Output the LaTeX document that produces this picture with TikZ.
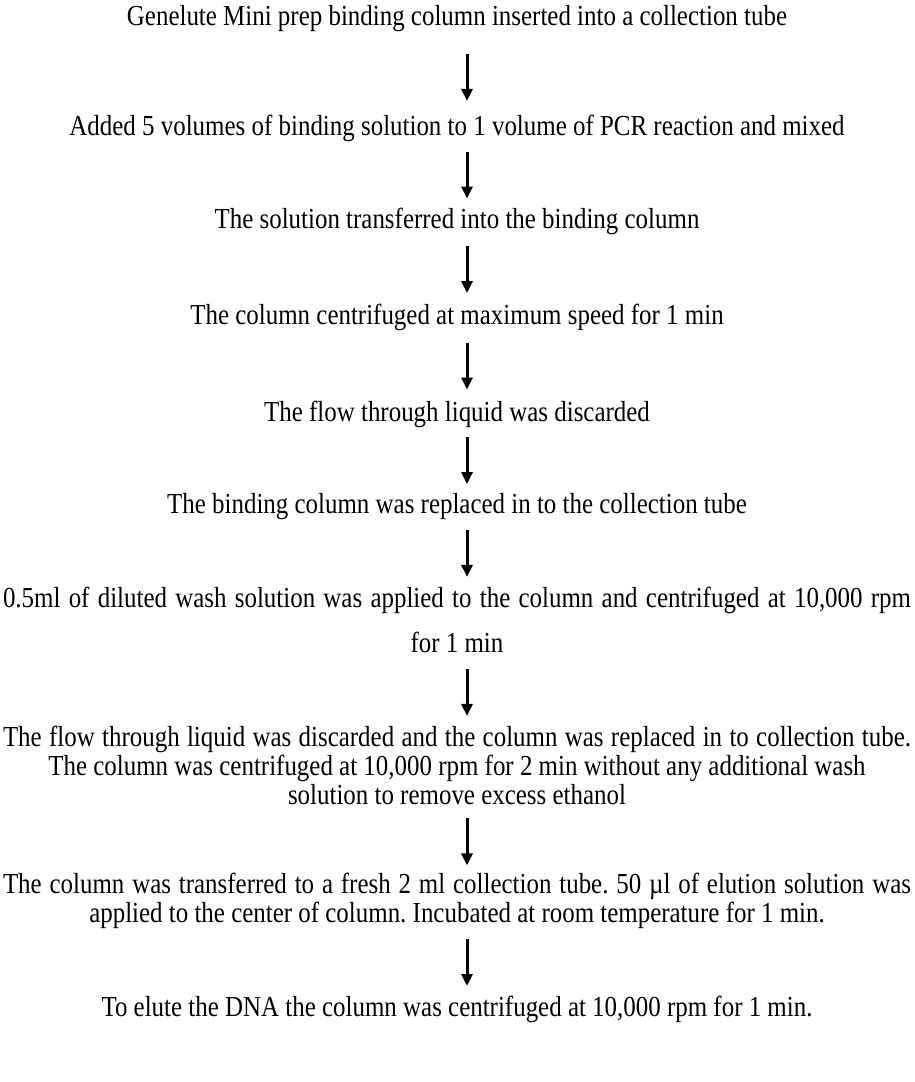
\documentclass[tikz,border=0pt]{standalone}
\usepackage{fontspec}
\setmainfont{Liberation Serif}[FakeStretch=0.86]
\usetikzlibrary{arrows.meta,calc}
\frenchspacing
\newcommand\lnst{\rule[-6pt]{0pt}{26pt}}
\newcommand\justline[1]{\makebox[908pt][s]{#1}}
\begin{document}
\begin{tikzpicture}[x=1pt,y=-1pt,
  stepbox/.style={font=\fontsize{29}{29}\selectfont, align=center, inner sep=0pt, anchor=north},
  flow/.style={-{Triangle[width=11pt,length=12pt]}, line width=3pt}]
\useasboundingbox[fill=white] (0,0) rectangle (914,1082);
\coordinate (ax) at (467,0);
\node[stepbox] (s1) at (457,5) {\lnst Genelute Mini prep binding column inserted into a collection tube};
\node[stepbox] (s2) at (457,115) {\lnst Added 5 volumes of binding solution to 1 volume of PCR reaction and mixed};
\node[stepbox] (s3) at (457,208) {\lnst The solution transferred into the binding column};
\node[stepbox] (s4) at (457,304) {\lnst The column centrifuged at maximum speed for 1 min};
\node[stepbox] (s5) at (457,401) {\lnst The flow through liquid was discarded};
\node[stepbox] (s6) at (457,493) {\lnst The binding column was replaced in to the collection tube};
\node[stepbox] (s7) at (457,587) {\lnst\justline{0.5ml of diluted wash solution was applied to the column and centrifuged at 10,000 rpm}\\[16pt]\lnst for 1 min};
\node[stepbox] (s8) at (457,726) {\lnst\justline{The flow through liquid was discarded and the column was replaced in to collection tube.}\\The column was centrifuged at 10,000 rpm for 2 min without any additional wash\\\lnst solution to remove excess ethanol};
\node[stepbox] (s9) at (457,873) {\lnst\justline{The column was transferred to a fresh 2 ml collection tube. 50 µl of elution solution was}\\\lnst applied to the center of column. Incubated at room temperature for 1 min.};
\node[stepbox] (s10) at (457,996) {\lnst To elute the DNA the column was centrifuged at 10,000 rpm for 1 min.};
\foreach \a/\b/\d in {s1/s2/4,s2/s3/0,s3/s4/0,s4/s5/0,s5/s6/0,s6/s7/0,s7/s8/0,s8/s9/0,s9/s10/0}{
  \draw[flow] ($(\a.south -| ax)!0.5!(\b.north -| ax)+(0,-23.5+\d)$) -- ++(0,47);
}
\end{tikzpicture}
\end{document}
